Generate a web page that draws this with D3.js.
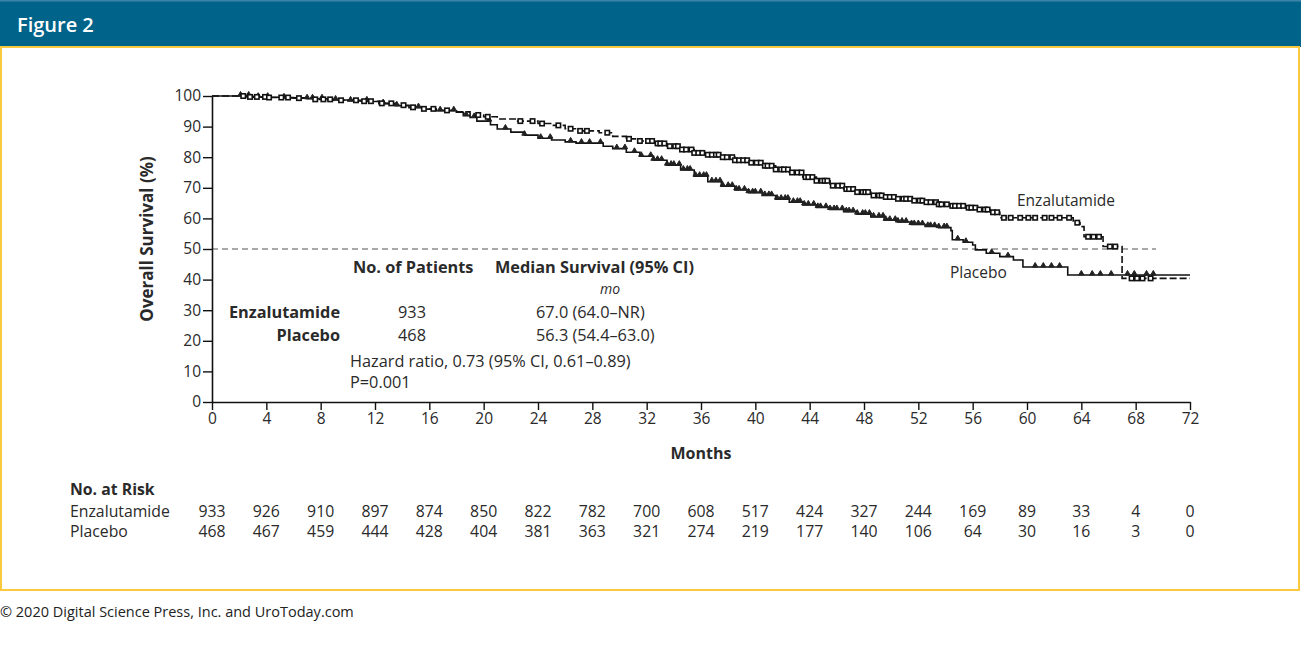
<!DOCTYPE html>
<html><head><meta charset="utf-8">
<script src="https://cdn.jsdelivr.net/npm/d3@7"></script>
<style>
body{margin:0;background:#fff;}
text{font-family:"Open Sans",Lato,sans-serif;}
</style></head>
<body><svg id="c" width="1301" height="655"></svg>
<script>
// ---- data ----
const monthTicks = [0,4,8,12,16,20,24,28,32,36,40,44,48,52,56,60,64,68,72];
const survTicks = [0,10,20,30,40,50,60,70,80,90,100];
const enzaMonths = [0,1.5,2.5,4,6,7.5,9,11,12.3,13.5,14.5,15.5,16.5,18,19,20,21,22.5,24,25,26,27,28.5,29.5,30.5,31.5,32.5,33.5,34.5,35.5,36.5,37.5,38.5,39.5,40.5,41.5,42.5,43.5,44.5,45.5,46.5,47.5,48.5,49.5,50.5,51.5,52.5,53.5,54.5,55.5,56.5,57.3,58,63.4,63.9,64.2,65.6,67,72];
const enzaSurv = [100,100,99.7,99.5,99.3,98.9,98.6,98.3,97.6,97,96.3,95.8,95.3,94.8,93.8,93.2,92.5,91.8,91,90.4,89.3,88.6,88,86.8,86,85.3,84.5,83.6,82.5,81.4,80.8,80,79,78.2,77.2,76,75,73.5,72.3,70.7,69.6,68.6,67.5,67,66.4,65.8,65.3,64.6,64.1,63.5,62.9,62,60.2,58.6,57.3,54,50.8,40.4,40.4];
const placMonths = [0,2,3,5,7,8.5,10,11.5,12.3,13.5,14.5,15.5,16.5,18,18.5,19,19.5,20.5,21,22,23,24,25,26,26.8,28.8,29.5,30.5,31.5,32.5,33.5,34.5,35.5,36.5,37.5,38.5,39.5,40.5,41.5,42.5,43.5,44.5,45.5,46.5,47.5,48.5,49.5,50.5,51.5,52.5,53.5,54.4,54.5,55.3,56,56.2,57,58,59,59.7,63,72];
const placSurv = [100,100,99.6,99.4,99.1,98.7,98.4,98.2,97.5,96.8,96.2,95.7,95.2,94.7,93.6,93,91.8,90.6,89.2,88.2,87.2,86.2,85.6,85,84.6,83.6,82.8,81.6,80.3,79,77.4,75.8,73.8,72,70.5,69.3,68.4,67.5,66.3,65.3,64.4,63.6,62.9,62.2,61.4,60.5,59.4,58.8,58,57.4,57,56,53,52.2,51.3,49.7,48.6,47.5,46.4,44.1,41.5,41.5];
const enzaCensor = [2.3,2.8,3.3,3.9,4.2,5.1,5.6,6.4,7.6,8.2,8.7,9.5,10.6,11.2,11.7,12.5,13.2,14.1,14.8,15.6,16.3,17.3,19.6,20.3,22.7,23.6,24.3,25.5,26.4,27.1,27.6,29.1,30.7,31.5,32.1,32.4,32.8,33.0,33.3,33.7,34.1,34.3,34.6,34.9,35.3,35.5,35.8,36.1,36.5,36.8,37.1,37.3,37.6,37.9,38.3,38.5,38.8,39.1,39.4,39.7,40.1,40.4,40.7,40.9,41.2,41.5,41.9,42.1,42.4,42.7,43.1,43.4,43.7,43.9,44.2,44.5,44.9,45.1,45.3,45.7,46.1,46.4,46.7,46.9,47.2,47.5,47.9,48.1,48.3,48.7,49.1,49.3,49.6,49.9,50.2,50.5,50.9,51.1,51.4,51.7,52.1,52.3,52.6,52.9,53.3,53.5,53.7,54.1,54.5,54.7,55.0,55.3,55.7,55.9,56.2,56.5,56.9,57.1,57.5,57.8,58.3,58.8,59.5,60.1,60.6,61.3,61.8,62.4,63.1,63.7,64.5,64.9,65.3,66.1,66.5,67.7,68.1,68.5,69.1];
const placCensor = [2.1,2.7,3.4,4.1,5.3,7.0,7.4,8.1,9.1,10.2,11.4,12.6,13.6,15.2,16.8,17.8,18.7,19.3,20.4,21.6,23.0,24.2,24.9,26.4,27.2,27.8,28.6,29.8,30.4,31.1,31.6,32.3,32.5,32.8,33.1,33.5,33.8,34.0,34.4,34.7,35.0,35.2,35.6,35.9,36.2,36.4,36.8,37.1,37.4,37.6,38.0,38.3,38.6,38.8,39.2,39.5,39.8,40.0,40.4,40.7,41.0,41.2,41.6,41.9,42.2,42.4,42.8,43.1,43.3,43.6,43.9,44.3,44.6,44.8,45.2,45.5,45.8,46.0,46.4,46.7,46.9,47.2,47.5,47.9,48.1,48.4,48.7,49.1,49.4,49.6,49.9,50.3,50.5,50.8,51.1,51.5,51.7,52.0,52.3,52.7,52.9,53.2,53.5,53.9,54.1,54.9,55.5,57.4,58.6,60.6,61.2,61.8,62.4,64.0,64.8,65.4,66.2,67.4,67.9,68.8,69.3];
const riskEnza = [933,926,910,897,874,850,822,782,700,608,517,424,327,244,169,89,33,4,0];
const riskPlac = [468,467,459,444,428,404,381,363,321,274,219,177,140,106,64,30,16,3,0];

// ---- drawing ----
const svg = d3.select("#c");
svg.append("rect").attr("x",0).attr("y",0).attr("width",1301).attr("height",47).attr("fill","#00648a");
svg.append("rect").attr("x",0).attr("y",0).attr("width",1301).attr("height",1.5).attr("fill","#3d85a8");
svg.append("text").attr("x",17).attr("y",32).attr("fill","#fff")
  .style("font-size","20px").style("font-weight","600").text("Figure 2");
svg.append("rect").attr("x",1).attr("y",47).attr("width",1298).attr("height",543)
  .attr("fill","none").attr("stroke","#fbc93d").attr("stroke-width",2);
svg.append("text").attr("x",0).attr("y",617).attr("fill","#222")
  .style("font-size","14.5px").text("© 2020 Digital Science Press, Inc. and UroToday.com");

const x = d3.scaleLinear().domain([0,72]).range([212,1190]);
const y = d3.scaleLinear().domain([0,100]).range([402,96]);
const ink = "#2a2a2a";

svg.append("line").attr("x1",x(0)).attr("x2",x(69.5)).attr("y1",y(50)).attr("y2",y(50))
  .attr("stroke","#555").attr("stroke-width",1.2).attr("stroke-dasharray","6,4");

const gy = svg.append("g").attr("transform",`translate(${x(0)},0)`)
  .call(d3.axisLeft(y).tickValues(survTicks).tickSize(9).tickSizeOuter(0).tickPadding(2));
const gx = svg.append("g").attr("transform",`translate(0,${y(0)})`)
  .call(d3.axisBottom(x).tickValues(monthTicks).tickSize(8).tickSizeOuter(0).tickPadding(3));
[gy,gx].forEach(g=>{
  g.select(".domain").attr("stroke","#111").attr("stroke-width",1.6);
  g.selectAll(".tick line").attr("stroke","#111").attr("stroke-width",1.4);
  g.selectAll(".tick text").attr("fill",ink).style("font-family","'Open Sans',sans-serif").style("font-size","15.5px");
});
svg.append("text").attr("transform","translate(153,239) rotate(-90)").attr("text-anchor","middle")
  .attr("fill",ink).style("font-size","17px").style("font-weight","700").text("Overall Survival (%)");
svg.append("text").attr("x",x(36)).attr("y",459).attr("text-anchor","middle")
  .attr("fill",ink).style("font-size","16px").style("font-weight","700").text("Months");

const line = d3.line().x(d=>x(d[0])).y(d=>y(d[1])).curve(d3.curveStepAfter);
const enza = enzaMonths.map((m,i)=>[m,enzaSurv[i]]);
const plac = placMonths.map((m,i)=>[m,placSurv[i]]);
svg.append("path").attr("d",line(plac)).attr("fill","none").attr("stroke","#111").attr("stroke-width",1.6);
svg.append("path").attr("d",line(enza)).attr("fill","none").attr("stroke","#111").attr("stroke-width",1.6).attr("stroke-dasharray","7,3");

function stepAt(ms, ss, t){ const i = d3.bisectRight(ms,t)-1; return ss[Math.max(0,i)]; }
svg.append("g").selectAll("path").data(placCensor).join("path")
  .attr("d",d3.symbol().type(d3.symbolTriangle).size(12))
  .attr("transform",d=>`translate(${x(d)},${y(stepAt(placMonths,placSurv,d))-1.5})`)
  .attr("fill","#222").attr("stroke","#222").attr("stroke-width",1);
svg.append("g").selectAll("rect").data(enzaCensor).join("rect")
  .attr("x",d=>x(d)-2.2).attr("y",d=>y(stepAt(enzaMonths,enzaSurv,d))-2.2)
  .attr("width",4.4).attr("height",4.4).attr("fill","#fff").attr("stroke","#111").attr("stroke-width",1.6);

svg.append("text").attr("x",1017).attr("y",206).attr("fill",ink).style("font-size","15.5px").text("Enzalutamide");
svg.append("text").attr("x",950).attr("y",278).attr("fill",ink).style("font-size","15.5px").text("Placebo");

const t = svg.append("g").attr("fill",ink).style("font-size","16.3px");
t.append("text").attr("x",353).attr("y",273).style("font-weight","700").text("No. of Patients");
t.append("text").attr("x",495).attr("y",273).style("font-weight","700").text("Median Survival (95% CI)");
t.append("text").attr("x",610).attr("y",294).attr("text-anchor","middle").style("font-style","italic").style("font-size","14px").text("mo");
t.append("text").attr("x",340).attr("y",318).attr("text-anchor","end").style("font-weight","700").text("Enzalutamide");
t.append("text").attr("x",412).attr("y",318).attr("text-anchor","middle").text("933");
t.append("text").attr("x",536).attr("y",318).text("67.0 (64.0–NR)");
t.append("text").attr("x",340).attr("y",341).attr("text-anchor","end").style("font-weight","700").text("Placebo");
t.append("text").attr("x",412).attr("y",341).attr("text-anchor","middle").text("468");
t.append("text").attr("x",536).attr("y",341).text("56.3 (54.4–63.0)");
t.append("text").attr("x",350).attr("y",367).text("Hazard ratio, 0.73 (95% CI, 0.61–0.89)");
t.append("text").attr("x",350).attr("y",388).text("P=0.001");

const r = svg.append("g").attr("fill",ink).style("font-size","15.8px");
r.append("text").attr("x",70).attr("y",495).style("font-weight","700").text("No. at Risk");
r.append("text").attr("x",70).attr("y",517).text("Enzalutamide");
r.append("text").attr("x",70).attr("y",537).text("Placebo");
r.selectAll("text.re").data(riskEnza).join("text").attr("class","re")
  .attr("x",(d,i)=>x(monthTicks[i])).attr("y",517).attr("text-anchor","middle").text(d=>d);
r.selectAll("text.rp").data(riskPlac).join("text").attr("class","rp")
  .attr("x",(d,i)=>x(monthTicks[i])).attr("y",537).attr("text-anchor","middle").text(d=>d);
</script></body></html>
